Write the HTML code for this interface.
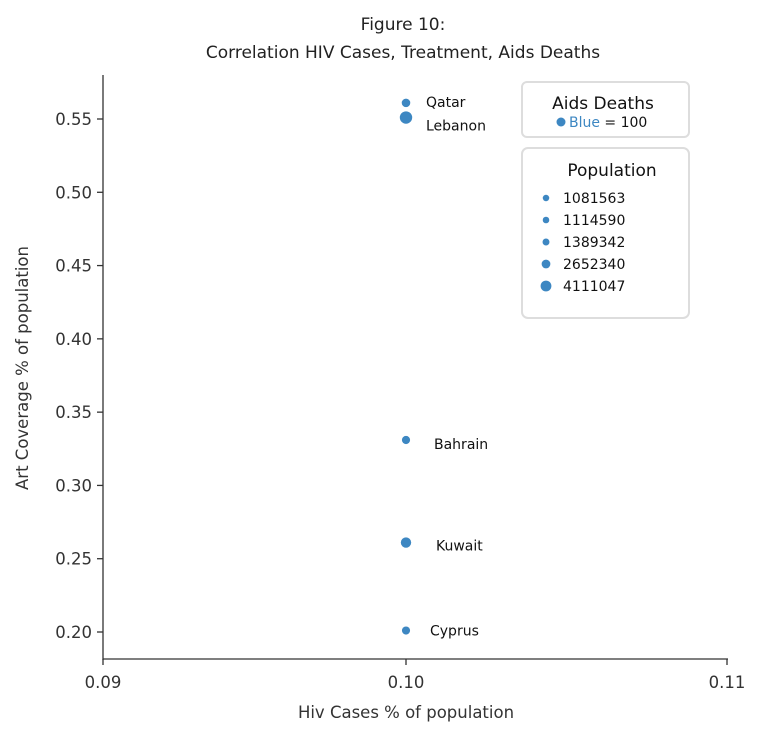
<!DOCTYPE html>
<html><head><meta charset="utf-8"><style>
body{margin:0;background:#fff;}
svg text{font-family:"DejaVu Sans","Liberation Sans",sans-serif;}
</style></head><body>
<svg id="chart" width="778" height="746">
<text x="403" y="30" text-anchor="middle" font-size="17" fill="#222">Figure 10:</text>
<text x="403" y="58" text-anchor="middle" font-size="17" fill="#222">Correlation HIV Cases, Treatment, Aids Deaths</text>
<g id="axes"></g>
<g id="points"></g>
<text x="406" y="718" text-anchor="middle" font-size="16.5" fill="#333">Hiv Cases % of population</text>
<text transform="translate(28,368) rotate(-90)" text-anchor="middle" font-size="16.5" fill="#333">Art Coverage % of population</text>
<g>
<rect x="522" y="82" width="167" height="55" rx="5" fill="#fff" stroke="#ddd" stroke-width="2"/>
<text x="603" y="109" text-anchor="middle" font-size="17" fill="#111">Aids Deaths</text>
<circle cx="561" cy="122" r="4.5" fill="#3d87c2"/>
<text x="569" y="127" font-size="14" fill="#3d87c2">Blue<tspan fill="#111"> = 100</tspan></text>
</g>
<g id="legend">
<rect x="522" y="148" width="167" height="170" rx="6" fill="#fff" stroke="#ddd" stroke-width="2"/>
<text x="612" y="176" text-anchor="middle" font-size="17" fill="#111">Population</text>
</g>
</svg>
<script>
const xTicks=[0.09,0.10,0.11];
const xTickLabels=["0.09","0.10","0.11"];
const yTicks=[0.20,0.25,0.30,0.35,0.40,0.45,0.50,0.55];
const yTickLabels=["0.20","0.25","0.30","0.35","0.40","0.45","0.50","0.55"];
const countries=["Qatar","Lebanon","Bahrain","Kuwait","Cyprus"];
const hivCases=[0.10,0.10,0.10,0.10,0.10];
const artCoverage=[0.561,0.551,0.331,0.261,0.201];
const population=[1389342,4111047,1114590,2652340,1081563];
const legendPops=[1081563,1114590,1389342,2652340,4111047];

const xd=[0.09,0.10,0.11], xr=[103,406,727];
function xScale(v){const i=v<=xd[1]?0:1;return xr[i]+(v-xd[i])/(xd[i+1]-xd[i])*(xr[i+1]-xr[i]);}
function yScale(v){return 632-(v-0.20)/0.35*(632-119);}
function rScale(p){return 4+2.2*(p-1000000)/3111047;}
const NS="http://www.w3.org/2000/svg";
function mk(t,a,p){const e=document.createElementNS(NS,t);for(const k in a)e.setAttribute(k,a[k]);p.appendChild(e);return e;}
const axes=document.getElementById('axes');
let l=mk('line',{x1:103,y1:75,x2:103,y2:660,stroke:'#333','stroke-width':1.3},axes);


l=mk('line',{x1:103,y1:659,x2:728,y2:659,stroke:'#333','stroke-width':1.3},axes);


xTicks.forEach((v,i)=>{const x=xScale(v);
 mk('line',{x1:x,y1:659,x2:x,y2:665,stroke:'#333','stroke-width':1.3},axes);
 const t=mk('text',{x:x,y:688,'text-anchor':'middle','font-size':16.5,fill:'#333'},axes);
 t.textContent=xTickLabels[i];
 
 
});
yTicks.forEach((v,i)=>{const y=yScale(v);
 mk('line',{x1:97,y1:y,x2:103,y2:y,stroke:'#333','stroke-width':1.3},axes);
 const t=mk('text',{x:92,y:y+6,'text-anchor':'end','font-size':16.5,fill:'#333'},axes);
 t.textContent=yTickLabels[i];
 
 
});
const pts=document.getElementById('points');
const labelDx=[20,20,28,30,24], labelDy=[4,13,9,8,5];
countries.forEach((c,i)=>{const x=xScale(hivCases[i]),y=yScale(artCoverage[i]);
 const p=mk('circle',{cx:x,cy:y,r:rScale(population[i]),fill:'#3d87c2'},pts);
 
 
 const t=mk('text',{x:x+labelDx[i],y:y+labelDy[i],'font-size':14,fill:'#111'},pts);
 t.textContent=c;
 
 
});
const lg=document.getElementById('legend');
legendPops.forEach((p,i)=>{const y=198+i*22;
 const c=mk('circle',{cx:546,cy:y,r:rScale(p)-0.8,fill:'#3d87c2'},lg);
 
 
 const t=mk('text',{x:563,y:y+5,'font-size':14,fill:'#111'},lg);
 t.textContent=p;
 
 
});
</script>
</body></html>
